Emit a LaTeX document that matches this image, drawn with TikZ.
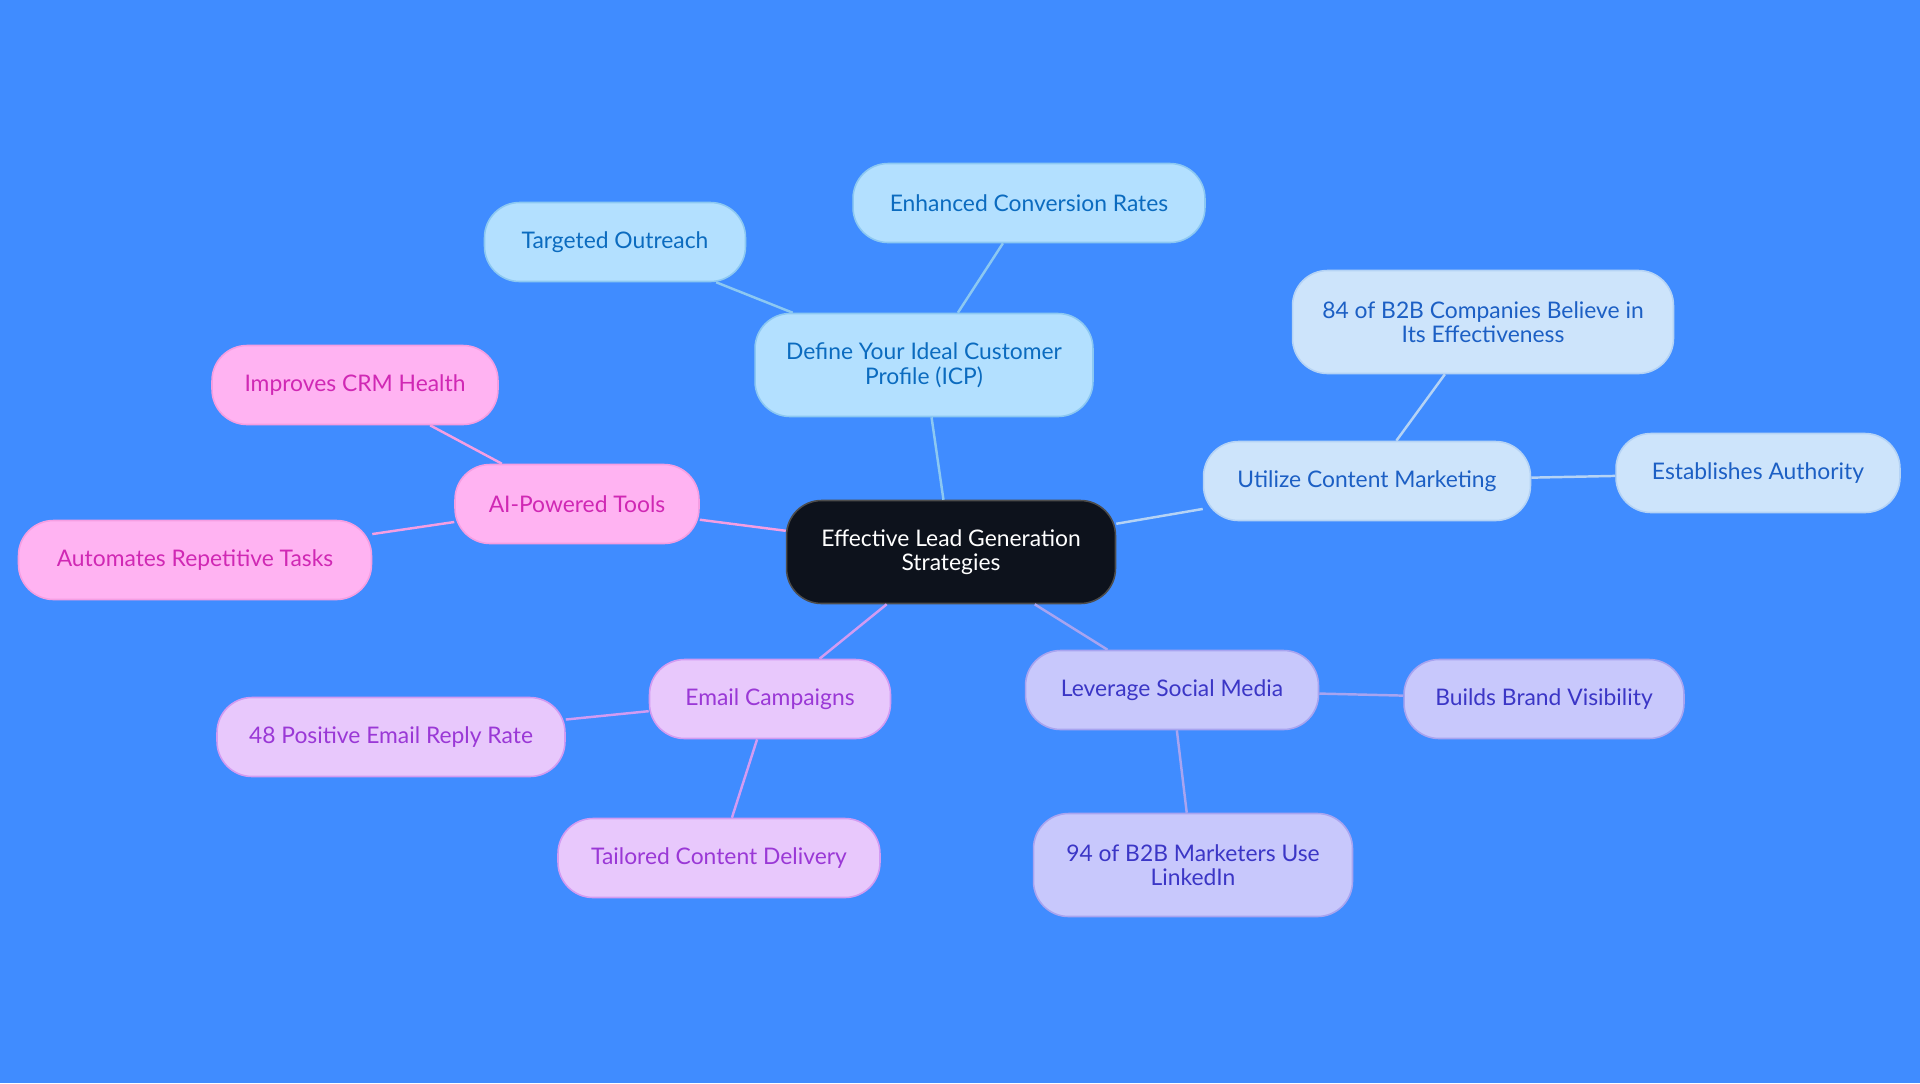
\documentclass[tikz,border=0pt]{standalone}
\usepackage{fontspec}
\setmainfont{Lato}
\usepackage{xcolor}
\usepackage{tikz}
\usetikzlibrary{positioning, calc}

\definecolor{bgblue}{HTML}{408CFF}
\definecolor{rootfill}{HTML}{0D121C}
\definecolor{icpfill}{HTML}{B3E0FF}
\definecolor{icptext}{HTML}{0B6BBF}
\definecolor{icpline}{HTML}{8CC8F2}
\definecolor{cmfill}{HTML}{CDE4FB}
\definecolor{cmtext}{HTML}{1C5FC4}
\definecolor{cmline}{HTML}{B5D3F5}
\definecolor{smfill}{HTML}{C8C8FC}
\definecolor{smtext}{HTML}{3B36C6}
\definecolor{smline}{HTML}{A8A4F0}
\definecolor{emfill}{HTML}{E8C8FC}
\definecolor{emtext}{HTML}{9A38D6}
\definecolor{emline}{HTML}{D29BF2}
\definecolor{aifill}{HTML}{FFB3F2}
\definecolor{aitext}{HTML}{D028B4}
\definecolor{ailine}{HTML}{F59EE2}

\begin{document}
\begin{tikzpicture}[
			x=0.02cm, y=-0.02cm,
			idea/.style={rectangle, rounded corners=0.7cm, minimum height=1.58cm, align=center, inner sep=2pt, line width=0.9pt, font=\fontsize{13}{14}\selectfont},
			tall/.style={minimum height=2.06cm},
			icpbox/.style={idea, fill=icpfill, draw=icpline, text=icptext},
			cmbox/.style={idea, fill=cmfill, draw=cmline, text=cmtext},
			smbox/.style={idea, fill=smfill, draw=smline, text=smtext},
			embox/.style={idea, fill=emfill, draw=emline, text=emtext},
			aibox/.style={idea, fill=aifill, draw=ailine, text=aitext},
			link/.style={line width=1.4pt}
			]
			% Background
			\fill[bgblue] (0,0) rectangle (1920,1083);
			
			% Nodes
			\node (root) [idea, tall, fill=rootfill, draw=black!70, text=white, minimum width=6.58cm] at (951,552) {Effective Lead Generation\\Strategies};
			
			\node (icp) [icpbox, tall, minimum width=6.76cm] at (924,365) {Define Your Ideal Customer\\Profile (ICP)};
			\node (outreach) [icpbox, minimum width=5.22cm] at (615,242) {Targeted Outreach};
			\node (conv) [icpbox, minimum width=7.04cm] at (1029,203) {Enhanced Conversion Rates};
			
			\node (content) [cmbox, minimum width=6.54cm] at (1367,481) {Utilize Content Marketing};
			\node (believe) [cmbox, tall, minimum width=7.62cm] at (1483,322) {84 of B2B Companies Believe in\\Its Effectiveness};
			\node (authority) [cmbox, minimum width=5.68cm] at (1758,473) {Establishes Authority};
			
			\node (social) [smbox, minimum width=5.86cm] at (1172,690) {Leverage Social Media};
			\node (brand) [smbox, minimum width=5.6cm] at (1544,699) {Builds Brand Visibility};
			\node (linkedin) [smbox, tall, minimum width=6.38cm] at (1193,865) {94 of B2B Marketers Use\\LinkedIn};
			
			\node (email) [embox, minimum width=4.82cm] at (770,699) {Email Campaigns};
			\node (reply) [embox, minimum width=6.96cm] at (391,737) {48 Positive Email Reply Rate};
			\node (tailored) [embox, minimum width=6.44cm] at (719,858) {Tailored Content Delivery};
			
			\node (aitools) [aibox, minimum width=4.88cm] at (577,504) {AI-Powered Tools};
			\node (crm) [aibox, minimum width=5.72cm] at (355,385) {Improves CRM Health};
			\node (automate) [aibox, minimum width=7.06cm] at (195,560) {Automates Repetitive Tasks};
			
			% Links
			\draw [link, icpline] (root) -- (icp);
			\draw [link, icpline] (icp) -- (outreach);
			\draw [link, icpline] (icp) -- (conv);
			
			\draw [link, cmline] (root) -- (content);
			\draw [link, cmline] (content) -- (believe);
			\draw [link, cmline] (content) -- (authority);
			
			\draw [link, smline] (root) -- (social);
			\draw [link, smline] (social) -- (brand);
			\draw [link, smline] (social) -- (linkedin);
			
			\draw [link, emline] (root) -- (email);
			\draw [link, emline] (email) -- (reply);
			\draw [link, emline] (email) -- (tailored);
			
			\draw [link, ailine] (root) -- (aitools);
			\draw [link, ailine] (aitools) -- (crm);
			\draw [link, ailine] (aitools) -- (automate);
		\end{tikzpicture}
\end{document}
